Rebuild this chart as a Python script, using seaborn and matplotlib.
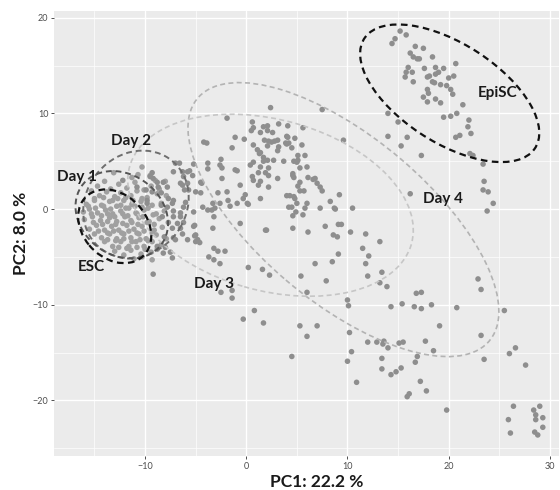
import matplotlib
matplotlib.use("Agg")
import matplotlib.pyplot as plt
import seaborn as sns
import pandas as pd
from matplotlib.patches import Ellipse
from matplotlib.ticker import MultipleLocator

sns.set_theme(style="darkgrid", rc={"axes.facecolor": "#EBEBEB", "grid.color": "white"})
plt.rcParams["font.family"] = ["Lato", "DejaVu Sans"]

# PCA scores, grouped by region of the plot
# dense ESC / Day 1 cluster as (PC1, PC2)
core_scores = [
    (-11.3, 3.3), (-10.7, 3.6), (-13.1, 3.8), (-10.3, 4.4), (-9.5, 3.5), (-9.0, 3.0),
    (-14.7, 2.4), (-14.0, 2.9), (-13.4, 2.1), (-12.6, 2.6), (-11.8, 2.2), (-11.0, 2.8), (-10.1, 2.0),
    (-9.4, 2.4), (-8.6, 2.1), (-8.0, 2.9),
    (-15.3, 1.9), (-14.5, 1.4), (-13.8, 1.8), (-13.0, 1.3), (-12.4, 1.7), (-11.4, 1.4), (-10.8, 1.9),
    (-9.8, 1.2), (-8.8, 1.6), (-7.9, 1.4),
    (-15.8, 0.5), (-15.0, 0.9), (-14.3, 0.4), (-13.5, 0.8), (-12.8, 0.3), (-12.1, 0.9), (-11.3, 0.5),
    (-10.4, 0.8), (-9.3, 0.4), (-8.4, 0.6),
    (-16.1, -0.3), (-15.5, 0.0), (-14.7, -0.4), (-13.9, -0.1), (-13.2, -0.5), (-12.4, -0.2), (-11.6, 0.1),
    (-10.9, -0.4), (-10.1, -0.1), (-8.9, -0.5), (-8.1, -0.2),
    (-16.0, -1.1), (-15.2, -0.8), (-14.4, -1.2), (-13.5, -0.9), (-12.8, -1.3), (-12.0, -0.8), (-11.4, -1.2),
    (-10.6, -0.9), (-9.6, -1.3), (-8.6, -1.0),
    (-15.5, -2.1), (-14.8, -1.7), (-14.0, -2.2), (-13.3, -1.8), (-12.6, -2.2), (-11.8, -1.7), (-11.1, -2.1),
    (-10.3, -1.8), (-9.1, -2.2), (-8.3, -1.9),
    (-15.0, -2.6), (-14.3, -3.0), (-13.5, -2.6), (-12.8, -3.1), (-12.1, -2.6), (-11.4, -3.0), (-10.6, -2.6),
    (-9.9, -3.1), (-8.9, -2.7), (-7.9, -3.1),
    (-14.0, -3.4), (-13.2, -3.9), (-12.4, -3.4), (-11.6, -3.9), (-10.9, -3.4), (-10.1, -3.9), (-9.3, -3.4),
    (-8.4, -3.7),
    (-13.0, -4.4), (-12.1, -4.8), (-11.4, -4.3), (-10.4, -4.7), (-9.4, -4.5), (-8.8, -4.2),
    (-11.1, -5.2), (-10.3, -5.0), (-9.3, -5.3),
    (-15.0, 1.1), (-14.1, 1.2), (-13.2, 0.9), (-12.7, 1.1), (-11.9, 1.2), (-11.2, 0.9), (-10.3, 1.1),
    (-15.6, 0.3), (-14.9, 0.1), (-14.1, 0.3), (-13.4, 0.0), (-12.4, 0.4), (-11.9, 0.1), (-11.0, 0.3),
    (-10.3, 0.2), (-9.7, 0.1),
    (-15.3, -0.5), (-14.3, -0.7), (-13.7, -0.5), (-13.0, -0.8), (-12.2, -0.5), (-11.7, -0.7), (-10.8, -0.5),
    (-10.2, -0.8), (-9.2, -0.6),
    (-15.1, -1.4), (-14.2, -1.6), (-13.7, -1.3), (-12.9, -1.6), (-12.2, -1.5), (-11.3, -1.4), (-10.7, -1.6),
    (-9.8, -1.4), (-9.1, -1.6),
    (-14.6, -2.3), (-13.7, -2.5), (-13.1, -2.3), (-12.3, -2.5), (-11.6, -2.3), (-10.8, -2.5), (-10.1, -2.3),
    (-9.3, -2.5),
    (-13.7, -3.2), (-12.9, -3.3), (-12.1, -3.1), (-11.3, -3.4), (-10.5, -3.2), (-9.7, -3.3),
    (-12.6, -4.0), (-11.8, -4.1), (-10.8, -4.0), (-10.0, -4.2),
]
core_pc1 = [p[0] for p in core_scores]
core_pc2 = [p[1] for p in core_scores]

early_pc1 = [-5.2, -7.0, -6.6, -7.2, -6.3, -5.6, -3.8, -6.2, -6.5, -5.8, -4.4, -2.4, -1.1, -0.9, -0.6,
             -6.1, -5.7, -1.9, -1.8, -0.9, -3.3, -3.8, -3.1, -5.2, -6.2, -6.0, 0.2, -9.5, -9.2, -8.8,
             -8.2, -8.7, -7.8, -9.9, -9.3, -8.4, -7.7, -9.8, -8.4, -7.8, -7.3, -7.2, -8.3, -7.2, -6.5,
             -7.7, -6.8, -6.2, -7.3, -6.5, -8.1, -7.2, -6.3, -5.2, -5.1, -5.8, -5.0, -4.6, -8.8, -8.0,
             -7.3, -3.7, -3.2, -2.8, -2.1, -3.2, -2.6, 0.2, -9.2, -2.5, -1.4, -1.4, -0.3, 0.8, 1.7,
             -8.2, -7.5, 1.6, 2.3, -5.8, -6.3, -9.3, -10.8, -12.2, -9.8, -7.2, -6.5, -4.3, -2.6, -4.5,
             -4.5, -2.8, -0.1, 0.7, 1.2, 2.1, 2.2, 1.7, 1.4, 0.7, 1.1, 2.6, 3.1, 2.4, 0.6, 0.7, 1.7,
             2.1, -4.2, -1.1, -2.6, 0.4, 1.4, 1.9, 1.2, 0.1, 1.9, -3.3, -7.0, -4.8, -0.6]
early_pc2 = [4.7, 4.8, 4.8, 3.9, 3.9, 4.0, 4.2, 3.4, 2.7, 2.7, 2.7, 3.2, 4.1, 4.0, 2.5,
             2.0, 2.0, 1.8, 0.9, 0.6, 0.6, -0.1, 0.1, -0.3, 0.2, 0.7, 0.5, 3.4, 3.2, 2.8,
             2.8, 2.3, 2.3, 2.0, 1.8, 1.7, 1.1, 0.6, 0.4, 0.2, 0.6, -0.2, -0.8, -0.8, -0.8,
             -1.4, -1.5, -1.4, -2.0, -2.0, -2.9, -3.0, -2.6, -1.8, -2.8, -3.2, -3.4, -3.5, -3.9, -4.0,
             -5.1, -5.0, -4.1, -4.4, -4.4, -5.3, -5.7, -6.1, -6.8, -8.7, -9.3, -8.5, -11.5, -10.6, -11.9,
             -4.6, -4.5, -6.3, -6.9, 3.9, 2.5, 3.8, 2.3, 3.0, 0.9, 0.9, -0.4, 0.2, 0.6, 2.8,
             1.7, 1.7, 1.5, 3.0, 3.8, 5.1, 4.3, 5.4, 5.9, 6.7, 6.2, 8.0, 7.2, 10.6, 9.1, 8.5, 8.6,
             8.2, 7.0, 7.5, 4.6, 4.6, 4.4, 3.8, 2.5, 0.6, -2.2, -2.0, -3.2, -3.2, -1.5]

mid_pc1 = [-1.9, 0.5, 1.4, 2.1, 3.2, 4.1, 5.6, 7.5, 9.6, -3.9, -1.4, -0.2, 1.8, 2.2, 2.5, 2.8, 4.0, 4.8,
           2.1, 3.1, 3.2, 4.0, 4.2, 4.5, 5.5, 5.8, 5.1, 5.0, 4.7, 6.0, 5.3, 3.7, 2.7, 1.7, 0.7, 1.3,
           -2.5, 0.6, 3.1, 2.2, 1.4, 2.2, 4.6, 4.7, 6.1, 6.6, 7.0, 7.3, 7.5, 5.1, 5.3, 5.7, 4.0, 4.3,
           4.7, 4.2, 4.5, 7.3, 8.7, 4.9, 5.6, 6.0, 4.6, 6.1, 9.2, 9.1, 9.4, 8.6, 9.0, 2.0, -1.6, -0.3,
           1.4, -2.4, -3.4, -3.2, -3.8, -5.3, -5.0, -5.1, -5.0, 4.1, 3.9, 5.1, 4.6, 5.3, 6.8, 8.3, 4.8,
           5.0, 5.8, 8.8, 10.5, 4.6, 7.8, 10.3, 11.8, 13.2, 11.5]
mid_pc2 = [9.5, 8.2, 8.0, 8.7, 8.9, 8.7, 8.5, 10.4, 7.2, 6.9, 6.4, 7.3, 7.2, 7.1, 7.0, 7.1, 7.6, 7.4,
           6.6, 6.1, 6.5, 6.8, 6.9, 6.4, 6.7, 5.6, 5.1, 4.9, 5.0, 4.4, 4.3, 5.0, 5.1, 5.0, 4.9, 5.8,
           5.2, 3.4, 3.2, 3.5, 2.9, 2.3, 3.7, 3.3, 3.3, 3.1, 2.7, 2.3, 1.9, 2.4, 1.9, 1.9, 1.4, 1.4,
           1.3, 0.2, 0.2, 0.1, 0.1, -0.3, -0.6, 0.6, -2.0, -2.4, 1.5, -1.6, -1.6, -2.7, -2.9, -2.2, 0.3, 1.1,
           1.1, 4.3, -0.1, -0.8, 4.8, 3.5, 1.8, -1.7, -2.7, 7.5, 6.9, 5.6, 3.5, 2.8, 3.2, 0.8, 1.1,
           0.6, 0.1, 0.0, 0.1, -0.7, -1.8, -2.4, -2.6, -3.4, -4.1]

epi_pc1 = [15.2, 14.7, 14.4, 15.8, 16.7, 17.5, 16.2, 16.5, 16.9, 17.1, 18.4, 16.0, 15.8, 16.4, 15.7, 16.5,
           17.6, 18.7, 19.5, 20.7, 18.1, 17.9, 18.7, 19.0, 20.0, 20.5, 18.4, 18.6, 19.2, 19.8, 17.9, 18.0,
           20.2, 20.4, 17.5, 17.9, 18.7, 19.2, 21.4, 19.5, 20.2, 20.8, 22.0, 21.9, 22.2, 21.1, 20.7, 14.0,
           15.0, 14.0, 15.9, 15.3, 17.3, 22.1, 22.4, 23.4, 23.5, 23.4, 23.9, 24.4, 23.8, 16.2]
epi_pc2 = [18.6, 17.8, 17.3, 18.2, 17.0, 16.8, 16.3, 15.9, 15.7, 15.7, 15.9, 14.8, 14.3, 14.3, 13.8, 13.3,
           14.7, 14.8, 14.7, 15.2, 13.9, 13.8, 14.1, 14.3, 13.7, 13.9, 13.3, 13.2, 13.0, 12.9, 12.5, 12.1,
           12.5, 12.0, 11.7, 11.2, 11.5, 11.1, 10.9, 9.6, 9.7, 10.0, 9.3, 8.6, 7.9, 7.7, 7.5, 10.0,
           9.1, 7.6, 7.5, 6.6, 5.6, 5.8, 5.6, 4.7, 2.9, 2.0, 1.8, 0.6, -0.2, 1.6]

late_pc1 = [12.1, 9.1, 6.8, 8.5, 11.8, 12.0, 13.4, 7.9, 5.4, 6.0, 13.2, 13.9, 10.0, 10.1, 16.8, 17.3,
            14.3, 15.4, 16.6, 17.3, 18.3, 20.8, 22.9, 23.2, 25.5, 5.3, 7.0, 6.0, 10.2, 12.0, 12.9, 13.6,
            13.5, 14.0, 15.1, 15.5, 17.7, 19.1, 23.2, 18.5, 16.9, 16.7, 23.5, 26.0, 26.6, 27.6, 4.5, 10.0,
            10.4, 13.4, 13.4, 14.3, 14.8, 15.3, 10.9, 17.2, 17.8, 15.9, 16.1, 19.8, 26.4, 25.9, 26.1, 28.4,
            29.0, 28.6, 28.6, 29.3, 29.3, 28.5, 28.8]
late_pc2 = [-4.9, -4.7, -5.7, -5.5, -5.7, -7.0, -6.6, -7.5, -7.0, -8.7, -7.7, -8.1, -9.5, -10.1, -8.8, -8.7,
            -10.2, -9.9, -10.2, -10.4, -10.0, -10.3, -7.3, -8.4, -10.6, -12.2, -12.2, -13.3, -12.9, -13.9, -13.9, -13.8,
            -14.1, -14.5, -14.0, -13.9, -13.8, -12.2, -13.2, -14.8, -15.4, -16.0, -15.7, -15.1, -14.5, -16.3, -15.4, -15.9,
            -14.9, -15.6, -16.7, -17.3, -17.0, -16.6, -18.1, -18.0, -19.0, -19.6, -19.3, -21.0, -20.6, -22.0, -23.4, -21.0,
            -20.6, -21.5, -22.0, -21.8, -22.8, -23.3, -23.6]

# stat ellipses per group: centre, full axes, rotation
ell_names = ["Day 4", "Day 3", "Day 2", "Day 1", "ESC", "EpiSC"]
ell_pc1 = [9.6, 2.4, -10.9, -12.3, -13.0, 20.1]
ell_pc2 = [-1.1, 0.4, 0.5, -0.6, -1.8, 12.1]
ell_w = [38.4, 29.0, 11.6, 10.0, 8.4, 20.4]
ell_h = [17.0, 17.8, 10.0, 8.2, 6.4, 10.2]
ell_ang = [-42, -17, 60, -45, -52, -35]
ell_col = ["#b3b3b3", "#c6c6c6", "#6e6e6e", "#555555", "#111111", "#111111"]
ell_lw = [1.2, 1.2, 1.4, 1.4, 1.6, 1.6]

lab_text = ["Day 1", "Day 2", "ESC", "Day 3", "Day 4", "EpiSC"]
lab_pc1 = [-16.7, -11.4, -15.3, -3.2, 19.4, 24.8]
lab_pc2 = [3.3, 7.1, -6.1, -7.8, 1.1, 12.1]

df = pd.concat([
    pd.DataFrame({"PC1": core_pc1, "PC2": core_pc2, "grp": "core"}),
    pd.DataFrame({"PC1": early_pc1, "PC2": early_pc2, "grp": "other"}),
    pd.DataFrame({"PC1": mid_pc1, "PC2": mid_pc2, "grp": "other"}),
    pd.DataFrame({"PC1": epi_pc1, "PC2": epi_pc2, "grp": "other"}),
    pd.DataFrame({"PC1": late_pc1, "PC2": late_pc2, "grp": "other"}),
])

fig = plt.figure(figsize=(5.6, 4.9), dpi=100)
ax = fig.add_axes([0.0964, 0.0694, 0.9018, 0.9082])

sns.scatterplot(data=df, x="PC1", y="PC2", hue="grp", palette={"core": "#a0a0a0", "other": "#8e8e8e"},
                s=16, linewidth=0, legend=False, ax=ax, zorder=3)

for i in range(len(ell_names)):
    e = Ellipse((ell_pc1[i], ell_pc2[i]), ell_w[i], ell_h[i], angle=ell_ang[i], fill=False,
                edgecolor=ell_col[i], linewidth=ell_lw[i], linestyle=(0, (3, 2)), zorder=4)
    ax.add_patch(e)

for t, x, y in zip(lab_text, lab_pc1, lab_pc2):
    ax.text(x, y, t, ha="center", va="center", fontsize=11, fontweight="bold", color="#1a1a1a", zorder=5)

ax.set_xlim(-19.0, 30.9)
ax.set_ylim(-25.8, 20.7)
ax.xaxis.set_major_locator(MultipleLocator(10))
ax.yaxis.set_major_locator(MultipleLocator(10))
ax.xaxis.set_minor_locator(MultipleLocator(5))
ax.yaxis.set_minor_locator(MultipleLocator(5))
ax.grid(which="major", color="white", linewidth=1.0)
ax.grid(which="minor", color="white", linewidth=0.5)
for s in ax.spines.values():
    s.set_visible(False)
ax.tick_params(which="major", length=2.5, width=0.6, color="#333333", labelsize=6.5,
               labelcolor="#4d4d4d", pad=1.5, bottom=True, left=True)
ax.tick_params(which="minor", length=0)

ax.set_xlabel("PC1: 22.2 %", fontsize=12.5, fontweight="bold", color="#1a1a1a")
ax.set_ylabel("PC2: 8.0 %", fontsize=12.5, fontweight="bold", color="#1a1a1a")
ax.xaxis.set_label_coords(0.52, -0.041)
ax.yaxis.set_label_coords(-0.05, 0.5)

fig.savefig("out.png", dpi=100)
